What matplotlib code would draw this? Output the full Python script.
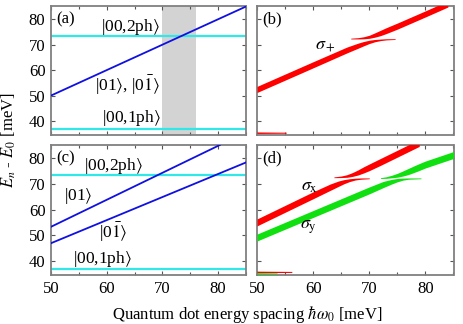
import numpy as np
import matplotlib
matplotlib.use("Agg")
import matplotlib.pyplot as plt

plt.rcParams['font.family'] = ['Liberation Serif', 'DejaVu Serif']
plt.rcParams['mathtext.fontset'] = 'stix'

# ---------------- data ----------------
xlim = (50, 85)
ylim = (34.5, 85.2)
ph1 = 36.8          # |00,1ph>
ph2 = 73.4          # |00,2ph>
band = (70, 76)     # grey region in (a)

# (a) degenerate |01>,|01bar>
a_x = [50, 85]
a_y = [50, 85]

# (c) split states
c_up_x = [50, 80.3]
c_up_y = [53.3, 85.2]
c_lo_x = [50, 85]
c_lo_y = [46.9, 78.4]

# (b) sigma+ branches: x, y, thickness (meV)
b_lo_x = [50, 60, 66, 68, 69, 70, 71, 72, 73, 74.6]
b_lo_y = [52.4, 62.1, 67.9, 69.6, 70.4, 71.1, 71.6, 71.9, 72.1, 72.2]
b_lo_w = [2.4, 2.4, 2.3, 2.0, 1.7, 1.3, 0.9, 0.6, 0.45, 0.3]
b_up_x = [66.7, 68, 69, 70, 71, 72, 73, 75, 80, 84]
b_up_y = [72.4, 72.5, 72.7, 73.1, 73.8, 74.6, 75.5, 77.3, 82.1, 86.0]
b_up_w = [0.3, 0.5, 0.8, 1.2, 1.7, 2.1, 2.3, 2.4, 2.4, 2.4]
b_low_x = [50, 55.2]
b_low_y = [35.4, 35.4]
b_low_w = [0.6, 0.4]

# (d) sigma_x (red) branches
dx_lo_x = [50, 60, 63, 64.5, 65.5, 66.5, 67.5, 68.5, 70]
dx_lo_y = [55.0, 65.6, 68.7, 70.1, 70.9, 71.5, 71.9, 72.1, 72.2]
dx_lo_w = [2.7, 2.7, 2.5, 2.1, 1.6, 1.1, 0.7, 0.5, 0.3]
dx_up_x = [63.7, 65, 66, 67, 68, 69, 70, 72, 78.9]
dx_up_y = [72.6, 72.8, 73.1, 73.7, 74.5, 75.5, 76.5, 78.6, 86.0]
dx_up_w = [0.3, 0.6, 1.0, 1.5, 2.0, 2.4, 2.6, 2.7, 2.7]
dx_low_x = [50, 56.2]
dx_low_y = [35.7, 35.7]
dx_low_w = [0.6, 0.4]

# (d) sigma_y (green) branches
dy_lo_x = [50, 60, 70, 72.5, 74, 75, 76, 77, 79.2]
dy_lo_y = [49.1, 58.3, 67.5, 69.8, 70.9, 71.5, 71.9, 72.1, 72.2]
dy_lo_w = [2.7, 2.7, 2.7, 2.4, 1.8, 1.3, 0.8, 0.5, 0.3]
dy_up_x = [72, 73, 74, 75, 76, 77, 78, 79, 80, 85]
dy_up_y = [72.3, 72.5, 72.9, 73.4, 74.1, 74.9, 75.8, 76.7, 77.6, 81.3]
dy_up_w = [0.3, 0.6, 1.0, 1.5, 2.0, 2.4, 2.6, 2.7, 2.7, 2.7]
dy_low_x = [50, 53.6]
dy_low_y = [35.1, 35.1]
dy_low_w = [0.6, 0.4]

xticks = [50, 60, 70, 80]
yticks = [40, 50, 60, 70, 80]

# ---------------- figure ----------------
fig = plt.figure(figsize=(4.63, 3.24), dpi=100)
L1, R1 = 51/463, 246/463
L2, R2 = 257/463, 453.5/463
T1, B1 = 1 - 6/324, 1 - 135/324
T2, B2 = 1 - 145/324, 1 - 275/324
axa = fig.add_axes([L1, B1, R1-L1, T1-B1])
axb = fig.add_axes([L2, B1, R2-L2, T1-B1])
axc = fig.add_axes([L1, B2, R1-L1, T2-B2])
axd = fig.add_axes([L2, B2, R2-L2, T2-B2])

spine_c = '#808080'
for ax in (axa, axb, axc, axd):
    ax.set_xlim(*xlim)
    ax.set_ylim(*ylim)
    ax.set_xticks(xticks)
    ax.set_xticks([55, 65, 75, 85], minor=True)
    ax.set_yticks(yticks)
    ax.tick_params(which='both', direction='in', top=True, right=True,
                   labelsize=12, length=3, width=0.8, color='#555555', pad=4)
    ax.tick_params(which='minor', length=2)
    for s in ax.spines.values():
        s.set_color(spine_c)
        s.set_linewidth(1.3)
for ax in (axa, axb):
    ax.tick_params(labelbottom=False)
for ax in (axb, axd):
    ax.tick_params(labelleft=False)

blue = '#1010e0'
cyan = '#30e8e8'
red = '#ff0000'
green = '#10e010'

def band_line(ax, x, y, w, color):
    x = np.asarray(x, float); y = np.asarray(y, float); w = np.asarray(w, float)
    ax.fill_between(x, y - w/2, y + w/2, color=color, lw=0, zorder=3)

fs = 12.5
# (a)
axa.axvspan(*band, color='#d3d3d3', lw=0, zorder=0)
axa.axhline(ph1, color=cyan, lw=1.6, zorder=2)
axa.axhline(ph2, color=cyan, lw=1.6, zorder=2)
axa.plot(a_x, a_y, color=blue, lw=1.3, zorder=3)
axa.text(51.0, 80, '(a)', fontsize=12, va='center', ha='left')
axa.text(64.2, 77.0, r'|00,2ph$\rangle$', fontsize=fs, ha='center', va='center')
axa.text(63.7, 53.9, r'|01$\rangle$, |0$\bar{1}\rangle$', fontsize=fs, ha='center', va='center')
axa.text(64.4, 41.2, r'|00,1ph$\rangle$', fontsize=fs, ha='center', va='center')

# (b)
band_line(axb, b_lo_x, b_lo_y, b_lo_w, red)
band_line(axb, b_up_x, b_up_y, b_up_w, red)
band_line(axb, b_low_x, b_low_y, b_low_w, red)
axb.text(51.0, 80, '(b)', fontsize=12, va='center', ha='left')
axb.text(62.2, 69.5, r'$\sigma_+$', fontsize=13, ha='center', va='center')

# (c)
axc.axhline(ph1, color=cyan, lw=1.6, zorder=2)
axc.axhline(ph2, color=cyan, lw=1.6, zorder=2)
axc.plot(c_up_x, c_up_y, color=blue, lw=1.3, zorder=3)
axc.plot(c_lo_x, c_lo_y, color=blue, lw=1.3, zorder=3)
axc.text(51.0, 80, '(c)', fontsize=12, va='center', ha='left')
axc.text(61.2, 77.0, r'|00,2ph$\rangle$', fontsize=fs, ha='center', va='center')
axc.text(54.9, 65.4, r'|01$\rangle$', fontsize=fs, ha='center', va='center')
axc.text(61.1, 51.0, r'|0$\bar{1}\rangle$', fontsize=fs, ha='center', va='center')
axc.text(59.3, 40.7, r'|00,1ph$\rangle$', fontsize=fs, ha='center', va='center')

# (d)
band_line(axd, dx_lo_x, dx_lo_y, dx_lo_w, red)
band_line(axd, dx_up_x, dx_up_y, dx_up_w, red)
band_line(axd, dx_low_x, dx_low_y, dx_low_w, red)
band_line(axd, dy_lo_x, dy_lo_y, dy_lo_w, green)
band_line(axd, dy_up_x, dy_up_y, dy_up_w, green)
band_line(axd, dy_low_x, dy_low_y, dy_low_w, green)
axd.text(51.0, 80, '(d)', fontsize=12, va='center', ha='left')
axd.text(59.3, 69.0, r'$\sigma_\mathrm{x}$', fontsize=13, ha='center', va='center')
axd.text(59.2, 53.3, r'$\sigma_\mathrm{y}$', fontsize=13, ha='center', va='center')

fig.text(0.018, (T1 + B2)/2, r'$E_n$ - $E_0$ [meV]', rotation=90, fontsize=12,
         ha='center', va='center')
fig.text((L1 + R2)/2 - 0.01, 0.03, r'Quantum dot energy spacing $\hbar\omega_0$ [meV]',
         fontsize=12, ha='center', va='center')

fig.savefig('out.png', dpi=100)
